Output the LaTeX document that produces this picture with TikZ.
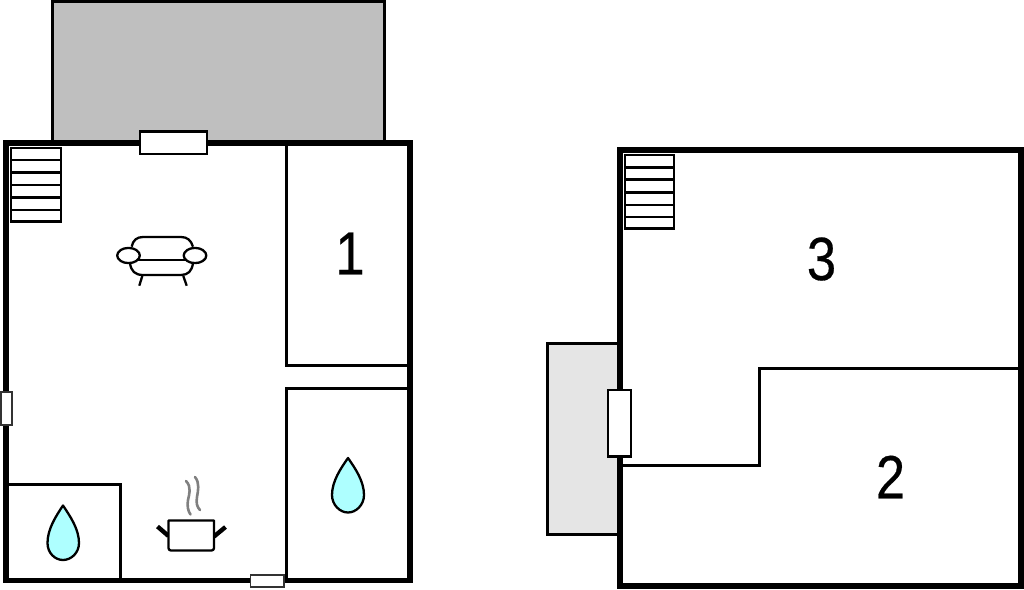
\documentclass[tikz,border=0pt]{standalone}
\usepackage{fontspec}
\setmainfont{Liberation Sans}
\newfontfamily\numeralfont[FakeBold=0.5]{Liberation Sans}
\definecolor{terrace}{HTML}{BFBFBF}
\definecolor{balcony}{HTML}{E5E5E5}
\definecolor{water}{HTML}{AEFFFF}
\tikzset{
  outerwall/.style={draw=black,line width=5.6pt,line join=miter},
  innerwall/.style={draw=black,line width=3pt,line join=miter},
  opening/.style={draw=black,fill=white,line width=2.5pt},
  thinopening/.style={draw=black!80,fill=white,line width=1.5pt},
  stairlines/.style={draw=black,line width=2.6pt},
  droplet/.style={draw=black,fill=water,line width=2.3pt,line join=round},
  furn/.style={draw=black,line width=2.3pt,line join=round},
  steam/.style={draw=black!50,line width=2.6pt,line cap=round},
  numeral/.style={font=\numeralfont\fontsize{61}{61}\selectfont,inner sep=0pt,text=black,xscale=.86,transform shape}
}
\begin{document}
\begin{tikzpicture}[x=1pt,y=-1pt]
\useasboundingbox (0,0) rectangle (1024,589);
\fill[white] (0,0) rectangle (1024,589);
% terrace and balcony
\draw[innerwall,fill=terrace] (52,143) -- (52,1) -- (384,1) -- (384,143);
\draw[innerwall,fill=balcony] (620,343) -- (547,343) -- (547,534) -- (620,534);
% ground floor
\draw[outerwall] (6,143) rectangle (410,580.5);
\draw[innerwall] (410,144) -- (286.5,144) -- (286.5,365) -- (410,365);
\draw[innerwall] (410,388.5) -- (286.5,388.5) -- (286.5,580);
\draw[innerwall] (7,484.5) -- (120,484.5) -- (120,580);
\draw[opening] (140,131.5) rectangle (207,154);
\draw[thinopening] (1,392) rectangle (12,425);
\draw[thinopening] (250.5,575) rectangle (284,587);
% upper floor
\draw[outerwall,line width=6pt] (619.7,150.3) -- (1021.3,150.3) -- (1021.3,586.2) -- (619.7,586.2) -- cycle;
\draw[innerwall] (621,465) -- (759,465) -- (759,368.5) -- (1021,368.5);
\draw[opening] (608,390) rectangle (631,456.5);
% stairs
\draw[stairlines,fill=white] (11,148) rectangle (61,221.5);
\foreach \y in {160,172.5,185,197.5,210} \draw[stairlines] (11,\y) -- (61,\y);
\draw[stairlines,fill=white] (625,155) rectangle (674,228.5);
\foreach \y in {167.5,179.5,192.5,205,217} \draw[stairlines] (625,\y) -- (674,\y);
% droplets
\draw[droplet] (63,505.5) .. controls (56,516) and (47.5,529) .. (47.5,543) .. controls (47.5,553) and (55,560) .. (63,560) .. controls (71,560) and (79,553) .. (79,543) .. controls (79,529) and (70,516) .. (63,505.5) -- cycle;
\draw[droplet] (348,458) .. controls (341,468) and (332,481) .. (332,495) .. controls (332,505) and (340,512.5) .. (348,512.5) .. controls (356,512.5) and (364,505) .. (364,495) .. controls (364,481) and (355,468) .. (348,458) -- cycle;
% sofa
\draw[furn] (131.7,246.7) .. controls (133,240) and (137,237) .. (143,237) -- (181,237) .. controls (187,237) and (191,240) .. (193,246.7);
\draw[furn] (130,263) .. controls (131,271) and (135,275) .. (143,275) -- (181,275) .. controls (188,275) and (192,271) .. (193,263);
\draw[furn] (137,260) -- (186,260);
\draw[furn,fill=white] (128.5,255.5) ellipse [x radius=11.3,y radius=7.6];
\draw[furn,fill=white] (195,255.5) ellipse [x radius=11.3,y radius=7.6];
\draw[furn] (142.3,276) -- (139.3,285.7);
\draw[furn] (183.3,276) -- (186.7,285.7);
% pot
\draw[furn,line width=4.4pt] (157.5,526.5) -- (168.5,536);
\draw[furn,line width=4.4pt] (225.5,527) -- (214,536.5);
\draw[furn,fill=white] (168.5,520.5) -- (214,520.5) -- (214,548) .. controls (214,549.5) and (213,550.5) .. (211.5,550.5) -- (171,550.5) .. controls (169.5,550.5) and (168.5,549.5) .. (168.5,548) -- cycle;
\draw[steam] (186,481) .. controls (192,487) and (189,495) .. (188,500) .. controls (187,506) and (188,511) .. (190.5,514.5);
\draw[steam] (195,477) .. controls (200,483) and (198,491) .. (197,497) .. controls (196,503) and (197,507) .. (200,510);
% room numbers
\node[numeral] (one) at (350,253.5) {1};
\node[numeral] (three) at (821.5,259) {3};
\node[numeral] (two) at (890.5,477) {2};
\end{tikzpicture}
\end{document}
